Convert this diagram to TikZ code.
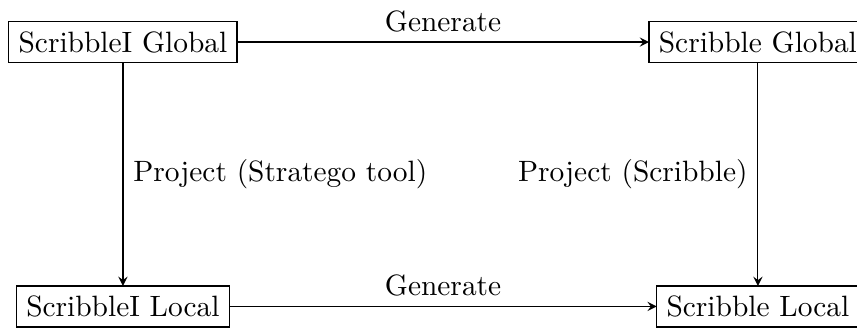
\documentclass[tikz,border=0pt]{standalone}
\usepackage{tikz}
\usetikzlibrary{arrows,positioning}
\tikzset{>=stealth}

\begin{document}
\begin{tikzpicture}[x=1pt, y=1pt, box/.style = {draw, thin, outer sep = 0mm}, lab/.style = {fill=none}]
    \useasboundingbox (0,0) rectangle (291.4,-111.9);
    \node[box] (IG) at (41.8, -14.3) {ScribbleI Global};
    \node[box] (SG) at (257.7, -14.3) {Scribble Global};
    \node[box] (IL) at (41.8, -104.2) {ScribbleI Local};
    \node[box] (SL) at (257.7, -104.2) {Scribble Local};
    \draw[->] (IG) -- node[lab, above] {Generate} (SG);
    \draw[->] (IL) -- node[lab, above] {Generate} (SL);
    \draw[->] (IG) -- node[lab, right] {Project (Stratego tool)} (IL);
    \draw[->] (SG) -- node[lab, left] {Project (Scribble)} (SL);
\end{tikzpicture}
\end{document}
